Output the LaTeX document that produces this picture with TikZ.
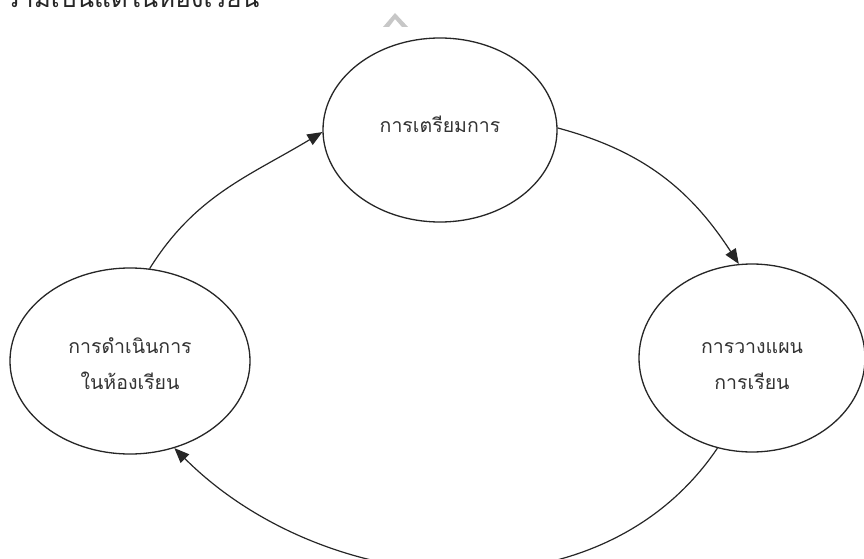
\documentclass[tikz,border=0pt]{standalone}
\usepackage{fontspec}
\newfontfamily\thaifont[Script=Thai]{Loma}
\usetikzlibrary{shapes.geometric,arrows.meta}
\begin{document}
\begin{tikzpicture}[x=1pt,y=1pt,
  stage/.style={draw=black!85,line width=1.3pt,ellipse,inner sep=0pt},
  stagetext/.style={align=center,inner sep=0pt,
    font=\thaifont\fontsize{19.5}{36}\selectfont,text=black!80},
  flow/.style={draw=black!85,line width=1.2pt,-{Triangle[length=15pt,width=12pt]}}]
\useasboundingbox[fill=white] (0,0) rectangle (864,558);
\node[anchor=base west,font=\thaifont\fontsize{26}{30}\selectfont,text=black!85] (head) at (1,550) {วามเป็นแต่ในห้องเรียน};
\fill[black!22] (383,531) -- (395,545) -- (408,531) -- (402,531) -- (395,539) -- (389,531) -- cycle;
\node[stage,minimum width=234pt,minimum height=184pt] (top) at (440,428) {};
\node[stage,minimum width=226pt,minimum height=188pt] (right) at (752,200) {};
\node[stage,minimum width=240pt,minimum height=186pt] (left) at (130,197) {};
\node[stagetext] (toptext) at ([yshift=6pt]top.center) {การเตรียมการ};
\node[stagetext] (righttext) at ([yshift=-8pt]right.center) {การวางแผน\\การเรียน};
\node[stagetext] (lefttext) at ([yshift=-3pt]left.center) {การดำเนินการ\\ในห้องเรียน};
\draw[flow] (left.78) to[out=58,in=211] (top.181);
\draw[flow] (top.1) to[out=-15,in=123] (right.98);
\draw[flow] (right.249) to[out=236,in=315,looseness=1.0] (left.297);
\end{tikzpicture}
\end{document}
